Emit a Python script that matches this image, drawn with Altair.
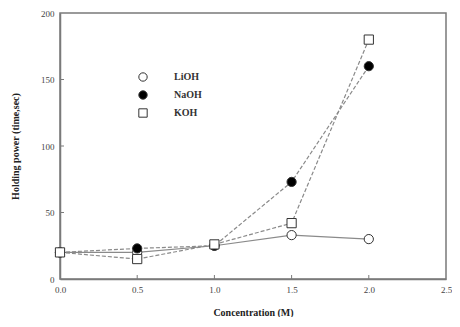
import altair as alt
import pandas as pd

conc = [0.0, 0.5, 1.0, 1.5, 2.0]
lioh = [20, 20, 25, 33, 30]
naoh = [20, 23, 25, 73, 160]
koh = [20, 15, 26, 42, 180]
series = ["LiOH", "NaOH", "KOH"]
x_ticks = [0.0, 0.5, 1.0, 1.5, 2.0, 2.5]
y_ticks = [0, 50, 100, 150, 200]

rows = []
for name, vals in zip(series, [lioh, naoh, koh]):
    for c, v in zip(conc, vals):
        rows.append({"conc": c, "hp": v, "series": name})
df = pd.DataFrame(rows)

W, H = 386, 266
xs = alt.Scale(domain=[0, 2.5], nice=False)
ys = alt.Scale(domain=[0, 200], nice=False)
FONT = "Liberation Serif"
GRAY = "#7a7a7a"

x_enc = alt.X("conc:Q", scale=xs, title="Concentration (M)",
              axis=alt.Axis(values=x_ticks, format=".1f", ticks=False, labelPadding=6,
                            labelFlush=False, titlePadding=13,
                            domainColor=GRAY, domainWidth=1.5))
y_enc = alt.Y("hp:Q", scale=ys, title="Holding power (time,sec)",
              axis=alt.Axis(values=y_ticks, ticks=False, labelPadding=6,
                            labelFlush=False, titlePadding=20,
                            domainColor=GRAY, domainWidth=1.5))

def leg():
    return alt.Legend(title=None, symbolStrokeColor="#333", symbolStrokeWidth=1,
                      labelOffset=26)

base = alt.Chart(df)
line_solid = base.transform_filter(alt.datum.series == "LiOH").mark_line(
    color="#8a8a8a", strokeWidth=1.2).encode(x=x_enc, y=y_enc)
line_dash = base.transform_filter(alt.datum.series != "LiOH").mark_line(
    color="#8a8a8a", strokeWidth=1.2, strokeDash=[4, 2]).encode(
    x="conc:Q", y="hp:Q", detail="series:N")

points = base.mark_point(filled=True, strokeWidth=1, opacity=1, size=85).encode(
    x="conc:Q", y="hp:Q",
    shape=alt.Shape("series:N", scale=alt.Scale(domain=series, range=["circle", "circle", "square"]),
                    legend=leg()),
    fill=alt.Fill("series:N", scale=alt.Scale(domain=series, range=["white", "black", "white"]),
                  legend=leg()),
    stroke=alt.Stroke("series:N", scale=alt.Scale(domain=series, range=["#333", "#333", "#333"]),
                      legend=leg()),
)

xt = pd.DataFrame({"t": x_ticks[1:-1]})
yt = pd.DataFrame({"t": y_ticks[1:-1]})
xtick_rules = alt.Chart(xt).mark_rule(color=GRAY, strokeWidth=1).encode(
    x=alt.X("t:Q", scale=xs), y=alt.value(H), y2=alt.value(H - 4))
ytick_rules = alt.Chart(yt).mark_rule(color=GRAY, strokeWidth=1).encode(
    y=alt.Y("t:Q", scale=ys), x=alt.value(0), x2=alt.value(4))

chart = alt.layer(line_solid, line_dash, points, xtick_rules, ytick_rules).properties(
    width=W, height=H,
    autosize=alt.AutoSizeParams(type="none"),
    padding={"left": 52, "top": 5, "right": 6, "bottom": 38},
).configure_view(stroke=GRAY, strokeWidth=1.5).configure_axis(
    labelFont=FONT, labelFontSize=9, labelColor="#444",
    titleFont=FONT, titleFontSize=10, titleColor="#222", titleFontWeight="bold",
    grid=False,
).configure_legend(
    orient="none", legendX=78, legendY=59,
    labelFont=FONT, labelFontSize=10, labelColor="#333", labelFontWeight="bold",
    rowPadding=4, symbolSize=70,
)

chart.save("out.html", embed_options={"renderer": "svg", "actions": False})
